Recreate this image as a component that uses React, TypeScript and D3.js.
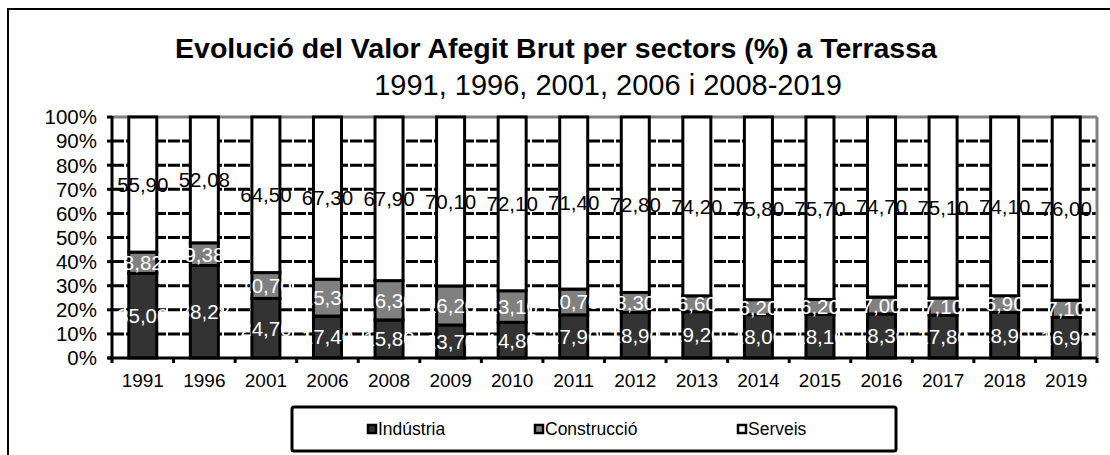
import React from "react";
import * as d3 from "d3";

const years = ["1991","1996","2001","2006","2008","2009","2010","2011","2012","2013","2014","2015","2016","2017","2018","2019"];
const industria = [35.0, 38.28, 24.7, 17.4, 15.8, 13.7, 14.8, 17.9, 18.9, 19.2, 18.0, 18.1, 18.3, 17.8, 18.9, 16.9];
const construccio = [8.82, 9.38, 10.7, 15.3, 16.3, 16.2, 13.1, 10.7, 8.3, 6.6, 6.2, 6.2, 7.0, 7.1, 6.9, 7.1];
const serveis = [55.9, 52.08, 64.5, 67.3, 67.9, 70.1, 72.1, 71.4, 72.8, 74.2, 75.8, 75.7, 74.7, 75.1, 74.1, 76.0];
const seriesNames = ["Indústria", "Construcció", "Serveis"];
const seriesFill = ["#333333", "#808080", "#ffffff"];
const labelColor = ["#ffffff", "#ffffff", "#000000"];
const yTicks = [0, 0.1, 0.2, 0.3, 0.4, 0.5, 0.6, 0.7, 0.8, 0.9, 1];

const FONT = "'Liberation Sans', Arial, sans-serif";

export default function App() {
  const W = 1110, H = 455;
  const left = 112, right = 1097, top = 117, bottom = 358;
  const rows = years.map((y, i) => ({ year: y, s0: industria[i], s1: construccio[i], s2: serveis[i] }));
  const stack = d3.stack<any>().keys(["s0", "s1", "s2"]).offset(d3.stackOffsetExpand);
  const stacked = stack(rows);
  const x = d3.scaleBand().domain(years).range([left, right]).paddingInner(0.545).paddingOuter(0.2725);
  const xb = d3.scaleBand().domain(years).range([left, right]);
  const y = d3.scaleLinear().domain([0, 1]).range([bottom, top]);
  const fmt = (v: number) => v.toFixed(2).replace(".", ",");
  const vals = [industria, construccio, serveis];

  const legendItems = [
    { x: 368, name: seriesNames[0], fill: seriesFill[0] },
    { x: 535, name: seriesNames[1], fill: seriesFill[1] },
    { x: 738, name: seriesNames[2], fill: seriesFill[2] },
  ];

  return (
    <svg width={W} height={H} style={{ position: "absolute", left: 0, top: 0, background: "#fff" }} fontFamily={FONT}>
      <rect x={0} y={0} width={W} height={H} fill="#fff" />
      <rect x={8} y={9} width={1120} height={470} fill="none" stroke="#000" strokeWidth={2} />
      <text x={556} y={58} textAnchor="middle" fontSize={28.5} fontWeight="bold">Evolució del Valor Afegit Brut per sectors (%) a Terrassa</text>
      <text x={608} y={95} textAnchor="middle" fontSize={29}>1991, 1996, 2001, 2006 i 2008-2019</text>

      {/* gridlines */}
      {yTicks.slice(1, -1).map((t) => (
        <line key={t} x1={left} x2={right} y1={y(t)} y2={y(t)} stroke="#000" strokeWidth={3} strokeDasharray="12,2" />
      ))}
      <line x1={left} x2={right} y1={y(1)} y2={y(1)} stroke="#808080" strokeWidth={3} />
      <line x1={right} x2={right} y1={y(1)} y2={y(0)} stroke="#808080" strokeWidth={3} />

      {/* bars */}
      {stacked.map((s, si) => (
        <g key={si}>
          {s.map((d, i) => (
            <rect key={i} x={x(years[i])!} width={x.bandwidth()} y={y(d[1])} height={y(d[0]) - y(d[1])}
              fill={seriesFill[si]} stroke="#000" strokeWidth={3} />
          ))}
        </g>
      ))}

      {/* axes */}
      <line x1={left} x2={left} y1={y(1) - 1} y2={y(0)} stroke="#000" strokeWidth={3} />
      <line x1={left - 4} x2={right} y1={y(0)} y2={y(0)} stroke="#000" strokeWidth={3} />
      {yTicks.map((t) => (
        <g key={t}>
          <line x1={left - 5} x2={left} y1={y(t)} y2={y(t)} stroke="#000" strokeWidth={3} />
          <text x={97} y={y(t)} dy="0.36em" textAnchor="end" fontSize={20.5}>{Math.round(t * 100)}%</text>
        </g>
      ))}
      {years.map((yr, i) => (
        <line key={yr} x1={left + xb.step() * i} x2={left + xb.step() * i} y1={y(0)} y2={y(0) + 5} stroke="#000" strokeWidth={3} />
      ))}
      <line x1={right} x2={right} y1={y(0)} y2={y(0) + 5} stroke="#000" strokeWidth={3} />
      {years.map((yr) => (
        <text key={yr} x={xb(yr)! + xb.bandwidth() / 2} y={387} textAnchor="middle" fontSize={19}>{yr}</text>
      ))}

      {/* labels */}
      {stacked.map((s, si) => (
        <g key={si}>
          {s.map((d, i) => (
            <text key={i} x={x(years[i])! + x.bandwidth() / 2} y={(y(d[0]) + y(d[1])) / 2} dy="0.36em"
              textAnchor="middle" fontSize={20.5} fill={labelColor[si]}>{fmt(vals[si][i])}</text>
          ))}
        </g>
      ))}

      {/* legend */}
      <rect x={292} y={407} width={604} height={44} fill="#fff" stroke="#000" strokeWidth={3} rx={2} />
      {legendItems.map((it) => (
        <g key={it.name}>
          <rect x={it.x} y={425} width={8} height={8} fill={it.fill} stroke="#000" strokeWidth={2.5} />
          <text x={it.x + 10} y={435} fontSize={17.5}>{it.name}</text>
        </g>
      ))}
    </svg>
  );
}
